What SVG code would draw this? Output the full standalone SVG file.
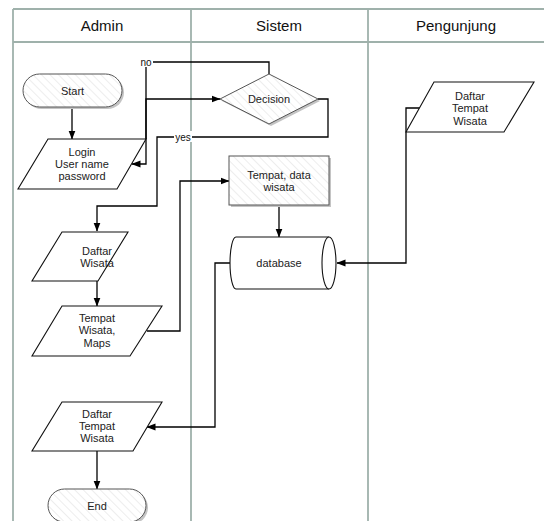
<svg xmlns="http://www.w3.org/2000/svg" width="544" height="521" viewBox="0 0 544 521">
  <style>
    .lane { stroke: #9fb1ab; stroke-width: 1.8; fill: none; }
    .hdr { font-family: "Liberation Sans", Arial, sans-serif; font-size: 15px; fill: #111; text-anchor: middle; }
    .lbl { font-family: "Liberation Sans", Arial, sans-serif; font-size: 11px; fill: #222; text-anchor: middle; }
    .elbl { font-family: "Liberation Sans", Arial, sans-serif; font-size: 10px; fill: #111; text-anchor: middle; }
    .soft { fill: url(#hatch); stroke: #555; stroke-width: 1; }
    .plain { fill: #fff; stroke: #111; stroke-width: 1.1; }
    .shadow { fill: #c4c4c4; stroke: none; }
    .conn { fill: none; stroke: #000; stroke-width: 1.3; }
    .arr { marker-end: url(#head); }
  </style>
  <defs>
    <pattern id="hatch" patternUnits="userSpaceOnUse" width="6" height="6" patternTransform="rotate(-45)">
      <rect width="6" height="6" fill="#fff"/>
      <line x1="0" y1="0" x2="0" y2="6" stroke="#dcdcdc" stroke-width="1"/>
    </pattern>
    <marker id="head" markerWidth="9" markerHeight="8" refX="8.5" refY="4" orient="auto" markerUnits="userSpaceOnUse">
      <path d="M0,0.5 L9,4 L0,7.5 Z" fill="#000"/>
    </marker>
  </defs>

  <!-- swimlane frame -->
  <g id="lanes">
    <rect x="0" y="0" width="544" height="521" fill="#fff"/>
    <line class="lane" x1="13" y1="9" x2="544" y2="9"/>
    <line class="lane" x1="13" y1="42" x2="544" y2="42"/>
    <line class="lane" x1="13" y1="9" x2="13" y2="521"/>
    <line class="lane" x1="191" y1="9" x2="191" y2="521"/>
    <line class="lane" x1="368" y1="9" x2="368" y2="521"/>
    <text class="hdr" x="102" y="31">Admin</text>
    <text class="hdr" x="279" y="31">Sistem</text>
    <text class="hdr" x="456" y="31">Pengunjung</text>
  </g>

  <!-- connectors -->
  <g id="connectors">
    <path class="conn arr" d="M72,107 V139"/>
    <path class="conn arr" d="M146,139 V99 H220"/>
    <path class="conn arr" d="M269,74 V62 H146 V164 H132"/>
    <path class="conn arr" d="M318,99 H328 V137 H157 V206 H97 V231"/>
    <path class="conn arr" d="M97,281 V306"/>
    <path class="conn arr" d="M147,331 H180 V181 H229"/>
    <path class="conn arr" d="M279,205 V237"/>
    <path class="conn arr" d="M420,108 H406 V263 H337"/>
    <path class="conn arr" d="M230,263 H215 V427 H147"/>
    <path class="conn arr" d="M97,451 V489"/>
    <rect x="139" y="56" width="14" height="11" fill="#fff"/>
    <text class="elbl" x="146" y="65.5">no</text>
    <rect x="174" y="131" width="18" height="11" fill="#fff"/>
    <text class="elbl" x="183" y="140.5">yes</text>
  </g>

  <g id="start">
    <rect class="shadow" x="25" y="76" width="99" height="33" rx="16.5"/>
    <rect class="soft" x="23" y="74" width="99" height="33" rx="16.5"/>
    <text class="lbl" x="72.5" y="94.5">Start</text>
  </g>

  <g id="login">
    <polygon class="plain" points="48,139 146,139 117,189 18,189"/>
    <text class="lbl" x="82" y="156">Login</text>
    <text class="lbl" x="82" y="168">User name</text>
    <text class="lbl" x="82" y="180">password</text>
  </g>

  <g id="decision">
    <polygon class="shadow" points="222,101 271,76 320,101 271,126"/>
    <polygon class="soft" points="220,99 269,74 318,99 269,124"/>
    <text class="lbl" x="269" y="103">Decision</text>
  </g>

  <g id="tempat-data">
    <rect class="shadow" x="231" y="158" width="100" height="49"/>
    <rect class="soft" x="229" y="156" width="100" height="49"/>
    <text class="lbl" x="279" y="179">Tempat, data</text>
    <text class="lbl" x="279" y="191">wisata</text>
  </g>

  <g id="database">
    <path class="plain" d="M236,237 H329 A7,26 0 0 1 329,289 H236 A6,26 0 0 1 236,237 Z"/>
    <path class="plain" fill="none" d="M329,237 A7,26 0 0 0 329,289"/>
    <text class="lbl" x="279" y="267">database</text>
  </g>

  <g id="daftar-tempat-pengunjung">
    <polygon class="plain" points="434,82 534,82 504,132 406,132"/>
    <text class="lbl" x="470" y="100">Daftar</text>
    <text class="lbl" x="470" y="112">Tempat</text>
    <text class="lbl" x="470" y="125">Wisata</text>
  </g>

  <g id="daftar-wisata">
    <polygon class="plain" points="62,232 128,232 98,281 32,281"/>
    <text class="lbl" x="97" y="255">Daftar</text>
    <text class="lbl" x="97" y="267">Wisata</text>
  </g>

  <g id="tempat-wisata-maps">
    <polygon class="plain" points="62,306 162,306 130,356 32,356"/>
    <text class="lbl" x="97" y="322">Tempat</text>
    <text class="lbl" x="97" y="334">Wisata,</text>
    <text class="lbl" x="97" y="347">Maps</text>
  </g>

  <g id="daftar-tempat-admin">
    <polygon class="plain" points="62,402 162,402 133,451 32,451"/>
    <text class="lbl" x="97" y="418">Daftar</text>
    <text class="lbl" x="97" y="430">Tempat</text>
    <text class="lbl" x="97" y="442">Wisata</text>
  </g>

  <g id="end">
    <rect class="shadow" x="50" y="491" width="98" height="33" rx="16.5"/>
    <rect class="soft" x="48" y="489" width="98" height="33" rx="16.5"/>
    <text class="lbl" x="97" y="510">End</text>
  </g>
</svg>
